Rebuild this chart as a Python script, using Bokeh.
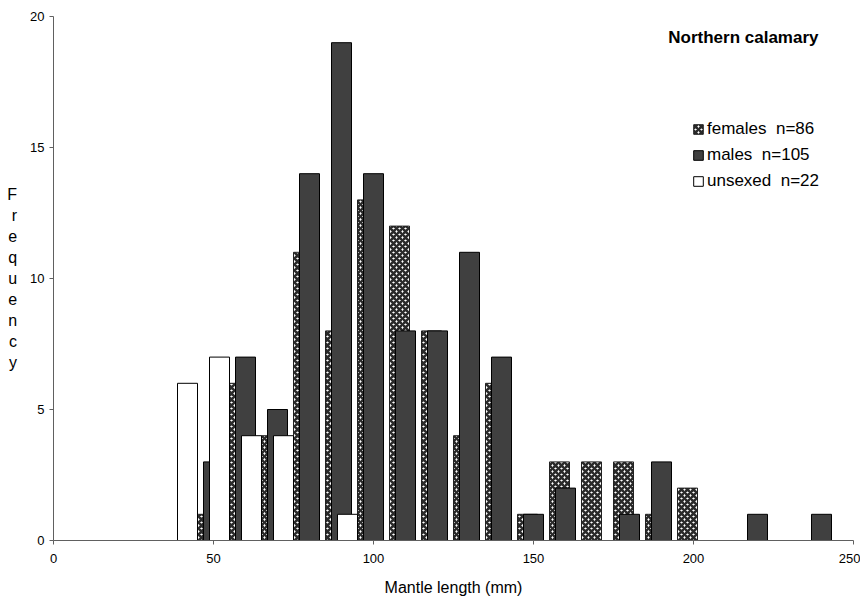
from bokeh.plotting import figure
from bokeh.models import ColumnDataSource, Range1d, FixedTicker, Legend, LegendItem, Label
from bokeh.embed import file_html
from bokeh.resources import INLINE

# ---- data ----
length_class = [45, 55, 65, 75, 85, 95, 105, 115, 125, 135,
                145, 155, 165, 175, 185, 195, 205, 215, 225, 235]
females = [1, 6, 4, 11, 8, 13, 12, 8, 4, 6, 1, 3, 3, 3, 1, 2, 0, 0, 0, 0]
males = [3, 7, 5, 14, 19, 14, 8, 8, 11, 7, 1, 2, 0, 1, 3, 0, 0, 1, 0, 1]
unsexed = [6, 7, 4, 4, 0, 1, 0, 0, 0, 0, 0, 0, 0, 0, 0, 0, 0, 0, 0, 0]
x_ticks = [0, 50, 100, 150, 200, 250]
y_ticks = [0, 5, 10, 15, 20]
legend_labels = ["females  n=86", "males  n=105", "unsexed  n=22"]
title_text = "Northern calamary"
x_title = "Mantle length (mm)"
y_title = "Frequency"

# ---- layout/style constants ----
BAR_W = 6.25
OFF_UNSEXED = -6.25
OFF_FEMALE = 0.0
OFF_MALE = 1.875
FONT = "Liberation Sans"


def make_source(counts, offset):
    left, right, top, bottom = [], [], [], []
    for c, n in zip(length_class, counts):
        if n > 0:
            left.append(c + offset)
            right.append(c + offset + BAR_W)
            top.append(n)
            bottom.append(0)
    return ColumnDataSource(dict(left=left, right=right, top=top, bottom=bottom))


p = figure(width=860, height=598, x_range=Range1d(0, 250), y_range=Range1d(0, 20),
           output_backend="svg", toolbar_location=None,
           min_border_left=53, min_border_right=7, min_border_top=16, min_border_bottom=57)
p.outline_line_color = None
p.grid.visible = False
p.background_fill_color = "white"
p.border_fill_color = "white"

r_f = p.quad(left="left", right="right", top="top", bottom="bottom", source=make_source(females, OFF_FEMALE),
             fill_color="white", hatch_pattern="diagonal_cross", hatch_color="#2a2a2a",
             hatch_scale=6, hatch_weight=2.6, line_color="#222222", line_width=1)
r_m = p.quad(left="left", right="right", top="top", bottom="bottom", source=make_source(males, OFF_MALE),
             fill_color="#404040", line_color="black", line_width=1)
r_u = p.quad(left="left", right="right", top="top", bottom="bottom", source=make_source(unsexed, OFF_UNSEXED),
             fill_color="white", line_color="black", line_width=1)

# axes
for ax in (p.xaxis[0], p.yaxis[0]):
    ax.axis_line_color = "#606060"
    ax.major_tick_line_color = "#606060"
    ax.major_tick_in = 0
    ax.major_tick_out = 4
    ax.minor_tick_line_color = None
    ax.major_label_text_font = FONT
    ax.major_label_text_font_size = "13px"
    ax.major_label_text_color = "black"
    ax.axis_label_text_font = FONT
    ax.axis_label_text_font_style = "normal"
    ax.axis_label_text_font_size = "16px"
    ax.axis_label_text_color = "black"

p.xaxis.ticker = FixedTicker(ticks=x_ticks)
p.yaxis.ticker = FixedTicker(ticks=y_ticks)
p.xaxis.axis_label = x_title
p.xaxis.major_label_standoff = 9
p.xaxis.axis_label_standoff = 13
p.yaxis.major_label_standoff = 5
p.yaxis.axis_label = "\n".join(list(y_title))
p.yaxis.axis_label_orientation = "horizontal"
p.yaxis.axis_label_text_line_height = 1.24
p.yaxis.axis_label_standoff = 10

# legend
legend = Legend(items=[LegendItem(label=legend_labels[0], renderers=[r_f]),
                       LegendItem(label=legend_labels[1], renderers=[r_m]),
                       LegendItem(label=legend_labels[2], renderers=[r_u])],
                location=(639, 349), orientation="vertical",
                border_line_color=None, background_fill_alpha=0,
                padding=0, margin=0, spacing=6,
                glyph_width=12, glyph_height=12, label_standoff=3, label_height=20,
                label_text_font=FONT, label_text_font_size="17px", label_text_color="black")
p.add_layout(legend, "center")

p.add_layout(Label(x=765, y=503, x_units="screen", y_units="screen", text=title_text,
                   text_font=FONT, text_font_size="17px", text_font_style="bold",
                   text_align="right", text_baseline="middle", text_color="black"))

open("out.html", "w").write(file_html(p, INLINE))
